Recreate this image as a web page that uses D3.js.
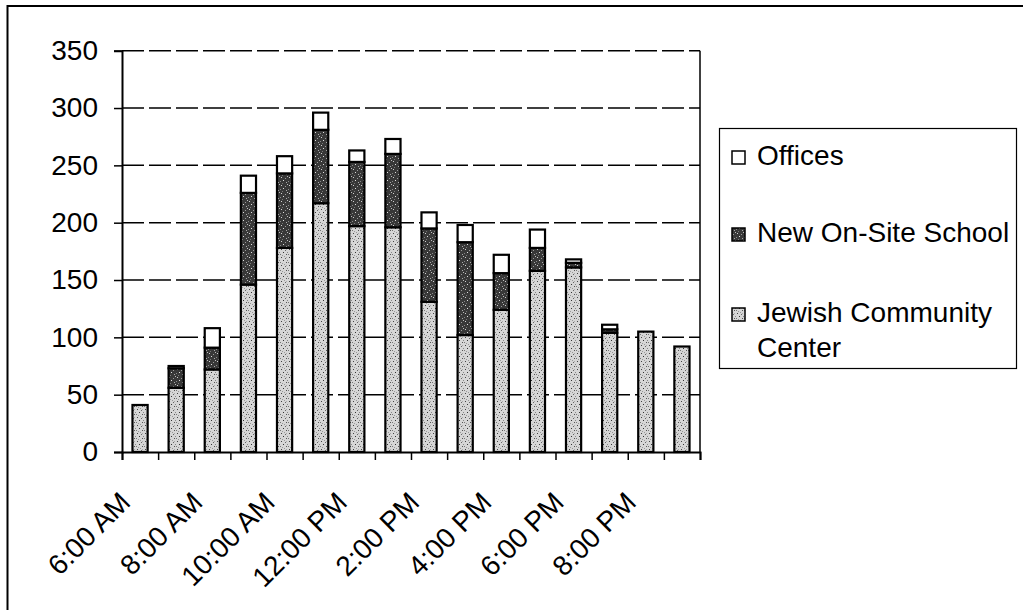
<!DOCTYPE html>
<html>
<head>
<meta charset="utf-8">
<script src="https://cdn.jsdelivr.net/npm/d3@7/dist/d3.min.js"></script>
<style>
  html, body { margin: 0; padding: 0; background: #fff; }
  svg { display: block; }
  text { font-family: "Liberation Sans", Arial, sans-serif; fill: #000; }
</style>
</head>
<body>
<svg id="chart" width="1023" height="610"></svg>
<script>
// ---- data ----
const categories = ["6:00 AM","7:00 AM","8:00 AM","9:00 AM","10:00 AM","11:00 AM","12:00 PM","1:00 PM","2:00 PM","3:00 PM","4:00 PM","5:00 PM","6:00 PM","7:00 PM","8:00 PM","9:00 PM"];
const jcc     = [41, 56, 72, 146, 178, 217, 197, 196, 131, 102, 124, 158, 161, 104, 105, 92];
const school  = [0, 17, 19, 80, 65, 64, 56, 64, 64, 81, 32, 20, 4, 3, 0, 0];
const offices = [0, 2, 17, 15, 15, 15, 10, 13, 14, 15, 16, 16, 3, 4, 0, 0];
const seriesNames = ["Jewish Community Center", "New On-Site School", "Offices"];
const yTicks = [0, 50, 100, 150, 200, 250, 300, 350];
const xLabelTicks = ["6:00 AM","8:00 AM","10:00 AM","12:00 PM","2:00 PM","4:00 PM","6:00 PM","8:00 PM"];

(function () {
// ---- layout ----
const svg = d3.select("#chart");
const pLeft = 122, pRight = 700, pTop = 50.7, pBottom = 452;

// patterns
const defs = svg.append("defs");
const pJ = defs.append("pattern").attr("id", "pJCC").attr("patternUnits", "userSpaceOnUse")
  .attr("width", 8).attr("height", 8);
pJ.append("rect").attr("width", 8).attr("height", 8).attr("fill", "#d6d6d6");
[[1,1,"#444"],[5,2,"#666"],[3,4,"#333"],[6,6,"#555"],[0,6,"#777"],[2,7,"#999"],[7,4,"#888"],[4,0,"#999"],[6,1,"#aaa"]]
  .forEach(([px,py,c]) => pJ.append("rect").attr("x", px).attr("y", py).attr("width", 1).attr("height", 1).attr("fill", c));
const pS = defs.append("pattern").attr("id", "pSchool").attr("patternUnits", "userSpaceOnUse")
  .attr("width", 8).attr("height", 8);
pS.append("rect").attr("width", 8).attr("height", 8).attr("fill", "#383838");
[[1,1,"#cfcfcf"],[5,2,"#999"],[3,4,"#e0e0e0"],[6,6,"#aaa"],[0,5,"#888"],[2,7,"#777"],[7,0,"#bbb"]]
  .forEach(([px,py,c]) => pS.append("rect").attr("x", px).attr("y", py).attr("width", 1).attr("height", 1).attr("fill", c));
const fills = ["url(#pJCC)", "url(#pSchool)", "#ffffff"];

// outer frame (left and top edges visible)
svg.append("path").attr("d", "M7.5,610 V6 H1023").attr("fill", "none")
  .attr("stroke", "#000").attr("stroke-width", 2);

// scales
const x = d3.scaleBand().domain(categories).range([pLeft, pRight]).paddingInner(0.58).paddingOuter(0.29);
const xi = d3.scaleLinear().domain([0, categories.length]).range([pLeft, pRight]);
const y = d3.scaleLinear().domain([0, 350]).range([pBottom, pTop]);

// gridlines
svg.append("g").selectAll("line").data(yTicks.filter(d => d > 0)).join("line")
  .attr("x1", pLeft).attr("x2", pRight)
  .attr("y1", d => y(d)).attr("y2", d => y(d))
  .attr("stroke", "#000").attr("stroke-width", 1.5)
  .attr("stroke-dasharray", "22,5");

// right plot border
svg.append("line").attr("x1", pRight).attr("x2", pRight).attr("y1", y(350)).attr("y2", pBottom)
  .attr("stroke", "#000").attr("stroke-width", 1.5);

// stacked data
const rows = categories.map((c, i) => ({ cat: c, j: jcc[i], s: school[i], o: offices[i] }));
const stack = d3.stack().keys(["j", "s", "o"])(rows);

svg.append("g").selectAll("g").data(stack).join("g")
  .attr("fill", (d, i) => fills[i])
  .selectAll("rect").data(d => d.filter(p => p[1] - p[0] > 0)).join("rect")
  .attr("x", d => x(d.data.cat))
  .attr("width", x.bandwidth())
  .attr("y", d => y(d[1]))
  .attr("height", d => y(d[0]) - y(d[1]))
  .attr("stroke", "#000").attr("stroke-width", 2.2);

// y axis
const yAxis = svg.append("g").attr("transform", `translate(${pLeft},0)`)
  .call(d3.axisLeft(y).tickValues(yTicks).tickSize(8).tickPadding(16).tickFormat(d3.format("d")));
yAxis.select(".domain").attr("stroke-width", 2);
yAxis.selectAll(".tick line").attr("stroke-width", 1.5);
yAxis.selectAll("text").attr("font-size", 28).attr("font-family", "Liberation Sans, Arial, sans-serif");

// x axis ticks at category boundaries
const xAxisTicks = svg.append("g").attr("transform", `translate(0,${pBottom})`)
  .call(d3.axisBottom(xi).tickValues(d3.range(categories.length + 1)).tickSize(8).tickFormat(""));
xAxisTicks.select(".domain").attr("stroke-width", 2);
xAxisTicks.selectAll(".tick line").attr("stroke-width", 1.5);

// x labels
const xLab = svg.append("g").attr("transform", `translate(0,${pBottom})`)
  .call(d3.axisBottom(x).tickValues(xLabelTicks).tickSize(0));
xLab.select(".domain").remove();
xLab.selectAll("text")
  .attr("x", 0).attr("y", 0).attr("dy", 0)
  .attr("text-anchor", "end")
  .attr("transform", "translate(-8,52) rotate(-45)")
  .attr("font-size", 28).attr("font-family", "Liberation Sans, Arial, sans-serif");

// legend
const lg = svg.append("g");
lg.append("rect").attr("x", 719.5).attr("y", 128.5).attr("width", 297).attr("height", 240)
  .attr("fill", "#fff").attr("stroke", "#000").attr("stroke-width", 1.2);
const legendItems = [
  { name: ["Offices"], fill: fills[2], base: 165 },
  { name: ["New On-Site School"], fill: fills[1], base: 242 },
  { name: ["Jewish Community", "Center"], fill: fills[0], base: 322 }
];
legendItems.forEach(it => {
  lg.append("rect").attr("x", 732).attr("y", it.base - 14).attr("width", 13).attr("height", 13)
    .attr("fill", it.fill).attr("stroke", "#000").attr("stroke-width", 1.5);
  const t = lg.append("text").attr("x", 757).attr("y", it.base).attr("font-size", 28);
  it.name.forEach((line, k) => {
    t.append("tspan").attr("x", 757).attr("dy", k === 0 ? 0 : 35).text(line);
  });
});
})();
</script>
</body>
</html>
